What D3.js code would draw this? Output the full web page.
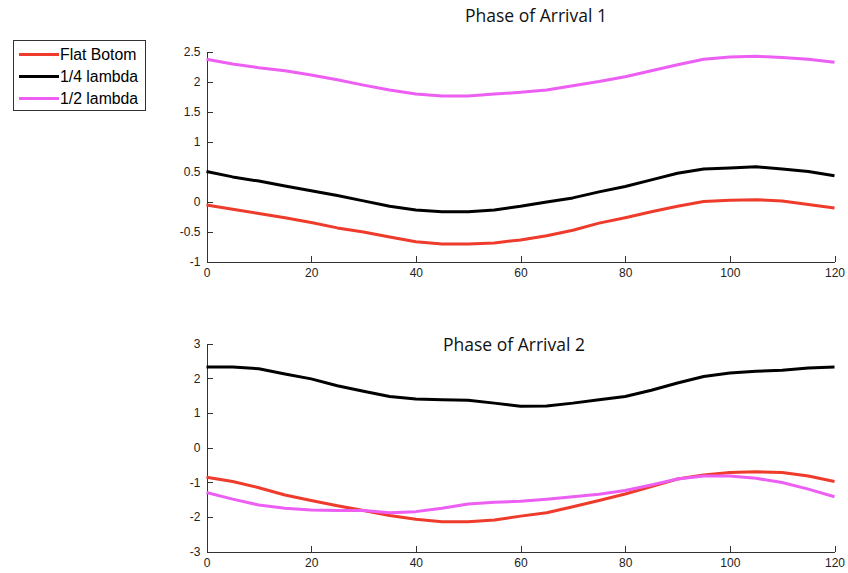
<!DOCTYPE html>
<html>
<head>
<meta charset="utf-8">
<script src="https://cdn.jsdelivr.net/npm/d3@7"></script>
<style>
  html, body { margin: 0; padding: 0; background: #fff; }
  svg { display: block; }
  .axis text { font-family: "Liberation Sans", Arial, sans-serif; font-size: 12px; fill: #222; }
  .axis path, .axis line { stroke: #333; stroke-width: 1; shape-rendering: crispEdges; }
  .title { font-family: "Open Sans", "Noto Sans", sans-serif; font-size: 17.5px; fill: #111; }
  .legend text { font-family: "Liberation Sans", Arial, sans-serif; font-size: 15.8px; fill: #000; }
</style>
</head>
<body>
<svg id="chart" width="848" height="573"></svg>
<script>
// Sample positions along the horizontal axis
const xs = [0, 5, 10, 15, 20, 25, 30, 35, 40, 45, 50, 55, 60, 65, 70, 75, 80, 85, 90, 95, 100, 105, 110, 115, 120];

// Phase of Arrival 1
const arrival1Flat = [-0.06, -0.13, -0.20, -0.27, -0.35, -0.44, -0.51, -0.59, -0.67, -0.71, -0.71, -0.69, -0.64, -0.57, -0.48, -0.36, -0.27, -0.17, -0.08, 0.00, 0.02, 0.03, 0.01, -0.05, -0.11];
const arrival1Quarter = [0.50, 0.41, 0.34, 0.26, 0.18, 0.10, 0.01, -0.08, -0.14, -0.17, -0.17, -0.14, -0.08, -0.01, 0.06, 0.16, 0.25, 0.36, 0.47, 0.54, 0.56, 0.58, 0.54, 0.50, 0.43];
const arrival1Half = [2.37, 2.29, 2.23, 2.18, 2.11, 2.03, 1.94, 1.86, 1.79, 1.76, 1.76, 1.79, 1.82, 1.86, 1.93, 2.00, 2.08, 2.18, 2.28, 2.37, 2.41, 2.42, 2.40, 2.37, 2.32];

// Phase of Arrival 2
const arrival2Flat = [-0.86, -0.98, -1.16, -1.37, -1.53, -1.68, -1.82, -1.96, -2.07, -2.14, -2.14, -2.09, -1.98, -1.88, -1.71, -1.53, -1.34, -1.13, -0.91, -0.79, -0.72, -0.70, -0.72, -0.82, -0.98];
const arrival2Quarter = [2.32, 2.32, 2.27, 2.12, 1.98, 1.78, 1.62, 1.47, 1.40, 1.38, 1.36, 1.28, 1.19, 1.20, 1.28, 1.38, 1.47, 1.65, 1.86, 2.05, 2.15, 2.20, 2.23, 2.29, 2.32];
const arrival2Half = [-1.30, -1.49, -1.66, -1.75, -1.80, -1.82, -1.82, -1.88, -1.85, -1.75, -1.63, -1.58, -1.55, -1.49, -1.42, -1.35, -1.24, -1.08, -0.91, -0.82, -0.82, -0.89, -1.01, -1.20, -1.42];

const xTicks = [0, 20, 40, 60, 80, 100, 120];
const y1Ticks = [-1, -0.5, 0, 0.5, 1, 1.5, 2, 2.5];
const y2Ticks = [-3, -2, -1, 0, 1, 2, 3];

const seriesNames = ["Flat Botom", "1/4 lambda", "1/2 lambda"];
const seriesColors = ["#ee3b2b", "#000000", "#ec5ff2"];

const svg = d3.select("#chart");

const x = d3.scaleLinear().domain([0, 120]).range([206.5, 834.5]);

function drawPanel(title, titleX, titleY, yDomain, yRange, yTicks, series) {
  const y = d3.scaleLinear().domain(yDomain).range(yRange);
  const g = svg.append("g");

  g.append("g")
    .attr("class", "axis")
    .attr("transform", `translate(0,${yRange[0]})`)
    .call(d3.axisBottom(x).tickValues(xTicks).tickFormat(d3.format("d"))
      .tickSizeInner(-6).tickSizeOuter(0).tickPadding(7));

  g.append("g")
    .attr("class", "axis")
    .attr("transform", `translate(${x.range()[0]},0)`)
    .call(d3.axisLeft(y).tickValues(yTicks).tickFormat(d => String(d))
      .tickSizeInner(-6).tickSizeOuter(0).tickPadding(6));

  const line = d3.line()
    .x((d, i) => x(xs[i]))
    .y(d => y(d));

  series.forEach((vals, k) => {
    g.append("path")
      .datum(vals)
      .attr("fill", "none")
      .attr("stroke", seriesColors[k])
      .attr("stroke-width", 3)
      .attr("stroke-linejoin", "round")
      .attr("d", line);
  });

  g.append("text")
    .attr("class", "title")
    .attr("x", titleX)
    .attr("y", titleY)
    .attr("text-anchor", "middle")
    .text(title);
}

drawPanel("Phase of Arrival 1", 536, 22, [-1, 2.5], [261.5, 51.5], y1Ticks,
  [arrival1Flat, arrival1Quarter, arrival1Half]);

drawPanel("Phase of Arrival 2", 514, 351, [-3, 3], [551.5, 343.5], y2Ticks,
  [arrival2Flat, arrival2Quarter, arrival2Half]);

// Legend
const legend = svg.append("g").attr("class", "legend");
legend.append("rect")
  .attr("x", 13.5).attr("y", 40.5)
  .attr("width", 132).attr("height", 70)
  .attr("fill", "#fff").attr("stroke", "#333").attr("stroke-width", 1);

seriesNames.forEach((name, k) => {
  const cy = 54.5 + k * 22;
  legend.append("line")
    .attr("x1", 19).attr("x2", 59)
    .attr("y1", cy).attr("y2", cy)
    .attr("stroke", seriesColors[k]).attr("stroke-width", 3);
  legend.append("text")
    .attr("x", 60).attr("y", cy)
    .attr("dy", "0.36em")
    .text(name);
});
</script>
</body>
</html>
